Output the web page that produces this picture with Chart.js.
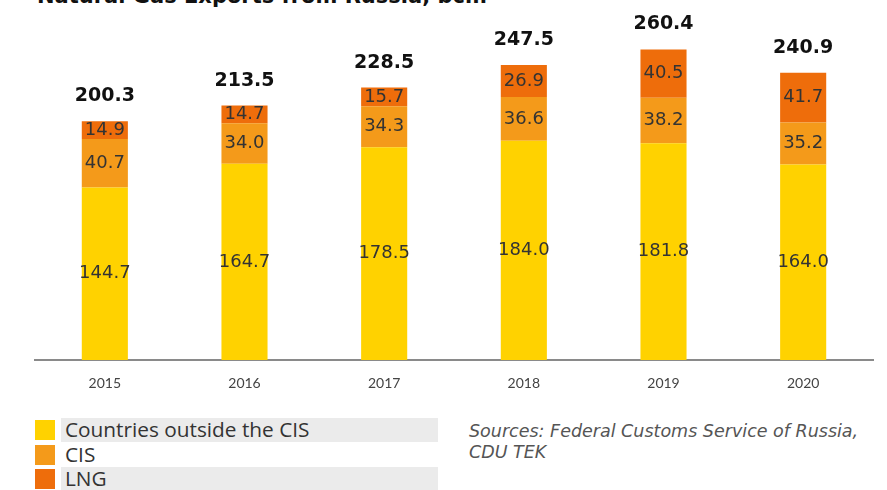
<!DOCTYPE html>
<html>
<head>
<meta charset="utf-8">
<script src="https://cdn.jsdelivr.net/npm/chart.js@4"></script>
<style>
    html, body { margin: 0; padding: 0; background: #fff; }
    body { width: 887px; height: 490px; position: relative; overflow: hidden; font-family: "DejaVu Sans", sans-serif; }
    #title { position: absolute; left: 37px; top: -14px; font: bold 21px "DejaVu Sans", sans-serif; line-height: 21px; color: #111; white-space: nowrap; }
    #chartBox { position: absolute; left: 0; top: 0; width: 887px; height: 400px; }
    .leg { position: absolute; left: 35px; height: 24px; }
    .leg .sw { position: absolute; left: 0; top: 2px; width: 20px; height: 20px; }
    .leg .txt { position: absolute; left: 26px; top: 0; width: 377px; height: 24px; line-height: 24px; padding-left: 4px; box-sizing: border-box; font: 20.8px "Open Sans", sans-serif; color: #333; white-space: nowrap; }
    .leg .txt span { position: relative; top: -3px; }
    .leg .txt.shade { background: #ebebeb; }
    #sources { position: absolute; left: 469px; top: 421px; font: italic 17.5px "DejaVu Sans", sans-serif; line-height: 21px; color: #555; }
</style>
</head>
<body>
<div id="title">Natural Gas Exports from Russia, bcm</div>
<div id="chartBox"><canvas id="gasChart"></canvas></div>
<div id="legend"></div>
<div id="sources">Sources: Federal Customs Service of Russia,<br>CDU TEK</div>
<script>
'use strict';

const years = ['2015', '2016', '2017', '2018', '2019', '2020'];
const outsideCis = [144.7, 164.7, 178.5, 184.0, 181.8, 164.0];
const cis = [40.7, 34.0, 34.3, 36.6, 38.2, 35.2];
const lng = [14.9, 14.7, 15.7, 26.9, 40.5, 41.7];
const totals = [200.3, 213.5, 228.5, 247.5, 260.4, 240.9];

const seriesNames = ['Countries outside the CIS', 'CIS', 'LNG'];
const seriesColors = ['#ffd200', '#f49a1a', '#ee6d0b'];

// подписи значений внутри сегментов и итог над столбцом
const valueLabels = {
    id: 'valueLabels',
    afterDatasetsDraw(chart) {
        const ctx = chart.ctx;
        ctx.save();
        ctx.textAlign = 'center';
        ctx.textBaseline = 'middle';
        ctx.fillStyle = '#333';
        ctx.font = '18px "DejaVu Sans", sans-serif';
        chart.data.datasets.forEach(function(ds, i) {
            const meta = chart.getDatasetMeta(i);
            meta.data.forEach(function(bar, j) {
                const mid = (bar.y + bar.base) / 2;
                ctx.fillText(ds.data[j].toFixed(1), bar.x, mid);
            });
        });
        const topMeta = chart.getDatasetMeta(chart.data.datasets.length - 1);
        ctx.font = 'bold 19px "DejaVu Sans", sans-serif';
        ctx.fillStyle = '#111';
        ctx.textBaseline = 'alphabetic';
        topMeta.data.forEach(function(bar, j) {
            ctx.fillText(totals[j].toFixed(1), bar.x, bar.y - 20);
        });
        ctx.restore();
    }
};

const ctx = document.getElementById('gasChart').getContext('2d');
new Chart(ctx, {
    type: 'bar',
    data: {
        labels: years,
        datasets: [
            { label: seriesNames[0], data: outsideCis, backgroundColor: seriesColors[0] },
            { label: seriesNames[1], data: cis, backgroundColor: seriesColors[1] },
            { label: seriesNames[2], data: lng, backgroundColor: seriesColors[2] }
        ]
    },
    options: {
        responsive: true,
        maintainAspectRatio: false,
        animation: false,
        layout: { padding: { left: 35, right: 14, top: 0, bottom: 0 } },
        datasets: { bar: { categoryPercentage: 1, barPercentage: 0.33, borderWidth: 0 } },
        plugins: {
            legend: { display: false },
            tooltip: { enabled: false }
        },
        scales: {
            x: {
                stacked: true,
                grid: { display: false, drawTicks: false },
                border: { display: true, color: '#8a8a8a', width: 2 },
                ticks: { color: '#444', padding: 15, font: { family: 'Lato', size: 14 } },
                afterFit: function(scale) { scale.height = 40; }
            },
            y: {
                stacked: true,
                display: false,
                min: 0,
                max: 302
            }
        }
    },
    plugins: [valueLabels]
});

// легенда
const legendEl = document.getElementById('legend');
const legendTops = [418, 443, 467];
seriesNames.forEach(function(name, i) {
    const row = document.createElement('div');
    row.className = 'leg';
    row.style.top = legendTops[i] + 'px';
    const sw = document.createElement('div');
    sw.className = 'sw';
    sw.style.background = seriesColors[i];
    const txt = document.createElement('div');
    txt.className = 'txt' + (i === 1 ? '' : ' shade');
    const span = document.createElement('span');
    span.textContent = name;
    txt.appendChild(span);
    row.appendChild(sw);
    row.appendChild(txt);
    legendEl.appendChild(row);
});
</script>
</body>
</html>
